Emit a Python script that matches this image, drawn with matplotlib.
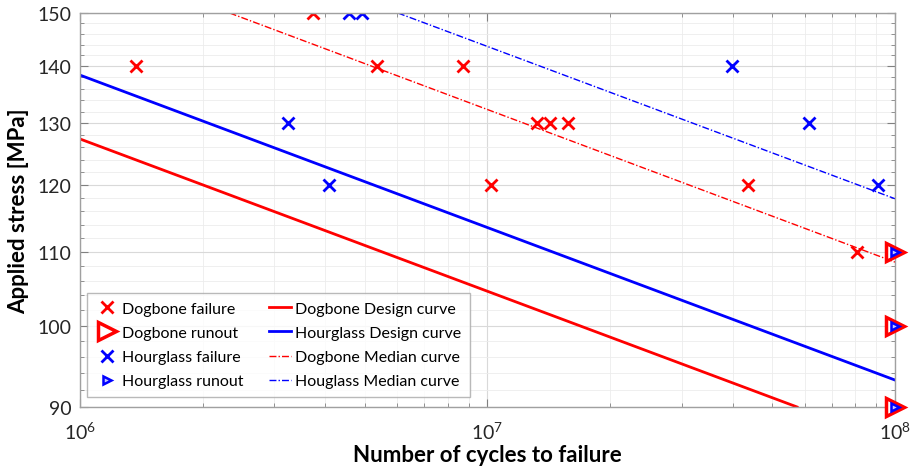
import numpy as np
import matplotlib
matplotlib.use("Agg")
from matplotlib import pyplot as plt
from matplotlib.ticker import FixedLocator, FixedFormatter, NullFormatter

plt.rcParams['font.family'] = ['Lato', 'DejaVu Sans']
plt.rcParams['mathtext.fontset'] = 'custom'
plt.rcParams['mathtext.rm'] = 'Lato'

# failures (cycles, stress MPa)
dog_fail_n = [1.37e6, 3.73e6, 5.36e6, 8.7e6, 1.02e7, 1.32e7, 1.42e7, 1.58e7, 4.35e7, 8.07e7]
dog_fail_s = [140, 150, 140, 140, 120, 130, 130, 130, 120, 110]
hg_fail_n = [3.24e6, 4.08e6, 4.57e6, 4.92e6, 3.98e7, 6.15e7, 9.08e7]
hg_fail_s = [130, 120, 150, 150, 140, 130, 120]

# runouts
dog_run_n = [1e8, 1e8, 1e8]
dog_run_s = [110, 100, 90]
hg_run_n = [1e8, 1e8, 1e8]
hg_run_s = [110, 100, 90]

# curves (end points on log-log)
dog_design_n = [1e6, 5.75e7]
dog_design_s = [127.4, 90]
hg_design_n = [1e6, 1e8]
hg_design_s = [138.4, 93.2]
dog_median_n = [2.33e6, 1e8]
dog_median_s = [150, 108.6]
hg_median_n = [6.03e6, 1e8]
hg_median_s = [150, 117.9]

y_ticks = [90, 100, 110, 120, 130, 140, 150]
x_ticks = [1e6, 1e7, 1e8]
x_labels = [r'$10^6$', r'$10^7$', r'$10^8$']

fig = plt.figure(figsize=(9.1, 4.77), dpi=100)
ax = fig.add_axes([0.0879, 0.1447, 0.8956, 0.8259])
ax.set_xscale('log')
ax.set_yscale('log')
ax.set_xlim(1e6, 1e8)
ax.set_ylim(90, 150)

h1, = ax.plot(dog_fail_n, dog_fail_s, 'x', color='#ff0000', ms=9, mew=2, ls='none', label='Dogbone failure')
h3, = ax.plot(hg_fail_n, hg_fail_s, 'x', color='#0000ff', ms=9, mew=2, ls='none', label='Hourglass failure')
h2, = ax.plot(dog_run_n, dog_run_s, '>', color='#ff0000', mfc='white', ms=13, mew=2.5, ls='none',
              clip_on=False, zorder=5, label='Dogbone runout')
h4, = ax.plot(hg_run_n, hg_run_s, '>', color='#0000ff', mfc='#c8c8ff', ms=6, mew=1.8, ls='none',
              clip_on=False, zorder=6, label='Hourglass runout')

l1, = ax.plot(dog_design_n, dog_design_s, '-', color='#ff0000', lw=2, label='Dogbone Design curve')
l2, = ax.plot(hg_design_n, hg_design_s, '-', color='#0000ff', lw=2, label='Hourglass Design curve')
l3, = ax.plot(dog_median_n, dog_median_s, color='#ff0000', lw=1, ls=(0, (5, 1.5, 1, 1.5)), label='Dogbone Median curve')
l4, = ax.plot(hg_median_n, hg_median_s, color='#0000ff', lw=1, ls=(0, (5, 1.5, 1, 1.5)), label='Houglass Median curve')

ax.yaxis.set_major_locator(FixedLocator(y_ticks))
ax.yaxis.set_minor_locator(FixedLocator(np.arange(90, 151, 2)))
ax.yaxis.set_major_formatter(FixedFormatter([str(v) for v in y_ticks]))
ax.yaxis.set_minor_formatter(NullFormatter())
ax.xaxis.set_major_locator(FixedLocator(x_ticks))
ax.xaxis.set_major_formatter(FixedFormatter(x_labels))

ax.grid(True, which='major', color='#d9d9d9', lw=0.8)
ax.grid(True, which='minor', color='#ececec', lw=0.6)
ax.set_axisbelow(True)
ax.tick_params(which='both', direction='in', top=True, right=True, color='#808080', labelsize=14, labelcolor='#262626')
ax.tick_params(axis='x', pad=9)
ax.tick_params(axis='y', pad=6)
ax.tick_params(which='major', length=6)
ax.tick_params(which='minor', length=3)
for sp in ax.spines.values():
    sp.set_color('#a0a0a0')
    sp.set_linewidth(1)

ax.set_xlabel('Number of cycles to failure', fontsize=16, fontweight='bold', labelpad=2)
ax.set_ylabel('Applied stress [MPa]', fontsize=16, fontweight='bold', labelpad=6)

leg = ax.legend(handles=[h1, h2, h3, h4, l1, l2, l3, l4], ncol=2, loc='lower left', mode='expand',
                bbox_to_anchor=(0.0086, 0.0254, 0.47, 0.0), fontsize=11.5, frameon=True,
                fancybox=False, edgecolor='#a8a8a8', handlelength=1.4, handletextpad=0.25,
                columnspacing=0.6, labelspacing=0.62, borderpad=0.55, borderaxespad=0.0)
leg.get_frame().set_linewidth(1)

fig.savefig('out.png', dpi=100)
